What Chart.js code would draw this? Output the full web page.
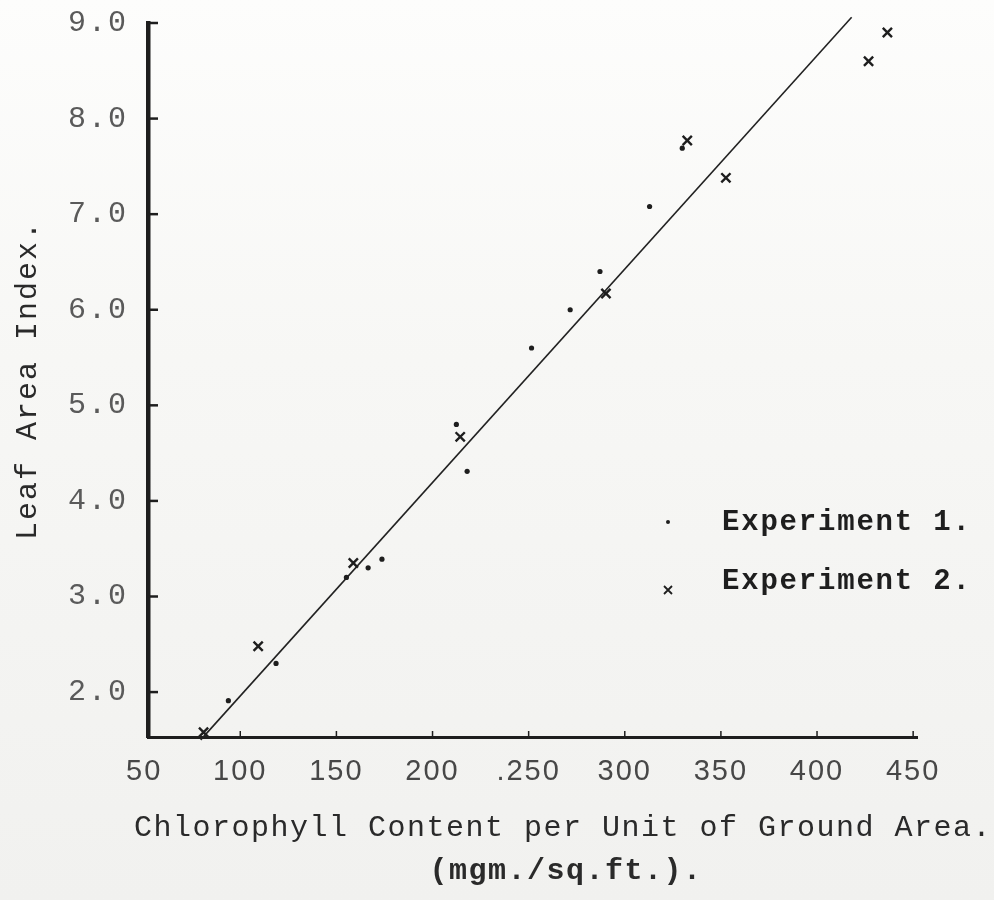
<!DOCTYPE html>
<html><head><meta charset="utf-8">
<script src="https://cdn.jsdelivr.net/npm/chart.js@4.4.1/dist/chart.umd.min.js"></script>
<style>
html,body{margin:0;padding:0;}
body{background:linear-gradient(180deg,#fdfdfc 0%,#f7f7f5 40%,#f1f1ef 100%);}
#wrap{width:994px;height:900px;position:relative;}
</style>
</head><body><div id="wrap"><canvas id="c" width="994" height="900"></canvas></div>
<script>
// ---- data ----
const exp1X = [93.8, 118.6, 155.2, 166.5, 173.7, 212.4, 218.0, 251.5, 271.6, 287.1, 312.9, 329.9];
const exp1Y = [1.91, 2.30, 3.20, 3.30, 3.39, 4.80, 4.31, 5.60, 6.00, 6.40, 7.08, 7.69];
const exp2X = [80.9, 109.3, 158.8, 214.4, 290.2, 332.5, 352.6, 426.8, 436.6];
const exp2Y = [1.58, 2.48, 3.35, 4.67, 6.17, 7.77, 7.38, 8.60, 8.90];
const fitX = [79.4, 418.0];
const fitY = [1.50, 9.06];
const xTickValues = [50, 100, 150, 200, 250, 300, 350, 400, 450];
const xTickLabels = ['50', '100', '150', '200', '.250', '300', '350', '400', '450'];
const yTickValues = [2, 3, 4, 5, 6, 7, 8, 9];
const yTickLabels = ['2.0', '3.0', '4.0', '5.0', '6.0', '7.0', '8.0', '9.0'];
const seriesNames = ['Experiment 1.', 'Experiment 2.'];
const yTitle = 'Leaf Area Index.';
const xTitleLines = ['Chlorophyll Content per Unit of Ground Area.', '(mgm./sq.ft.).'];

const MONO = '"Liberation Mono", "DejaVu Sans Mono", monospace';
const SANS = '"Liberation Sans", "DejaVu Sans", sans-serif';
const INK = '#1e1e1e';

const toPts = (xs, ys) => xs.map((x, i) => ({x: x, y: ys[i]}));

const spacingPlugin = {
  id: 'spacing',
  beforeUpdate(chart) { chart.ctx.letterSpacing = '2px'; },
  beforeDraw(chart) { chart.ctx.letterSpacing = '2px'; }
};

const innerTicks = {
  id: 'innerTicks',
  afterDraw(chart) {
    const ctx = chart.ctx, ca = chart.chartArea;
    const xs = chart.scales.x, ys = chart.scales.y;
    ctx.save();
    ctx.strokeStyle = INK;
    ctx.lineWidth = 2.5;
    yTickValues.forEach(v => {
      const py = ys.getPixelForValue(v);
      ctx.beginPath(); ctx.moveTo(ca.left, py); ctx.lineTo(ca.left + 10, py); ctx.stroke();
    });
    ctx.lineWidth = 1.5;
    xTickValues.forEach(v => {
      if (v <= xs.min) return;
      const px = xs.getPixelForValue(v);
      ctx.beginPath(); ctx.moveTo(px, ca.bottom); ctx.lineTo(px, ca.bottom - 6); ctx.stroke();
    });
    ctx.restore();
  }
};

const extraText = {
  id: 'extraText',
  afterDraw(chart) {
    const ctx = chart.ctx;
    ctx.save();
    // legend
    const lx = 668, tx = 722;
    ctx.fillStyle = INK;
    ctx.beginPath(); ctx.arc(lx, 522, 2, 0, Math.PI * 2); ctx.fill();
    ctx.strokeStyle = INK; ctx.lineWidth = 1.8;
    ctx.beginPath();
    ctx.moveTo(lx - 4, 586); ctx.lineTo(lx + 4, 594);
    ctx.moveTo(lx + 4, 586); ctx.lineTo(lx - 4, 594);
    ctx.stroke();
    ctx.letterSpacing = '1.8px';
    ctx.font = 'bold 29px ' + MONO;
    ctx.textBaseline = 'middle';
    ctx.textAlign = 'left';
    ctx.fillText(chart.data.datasets[0].label, tx, 523);
    ctx.fillText(chart.data.datasets[1].label, tx, 582);
    // x axis title
    ctx.letterSpacing = '1.5px';
    ctx.fillStyle = '#2a2a2a';
    ctx.font = '30px ' + MONO;
    ctx.textAlign = 'center';
    ctx.fillText(xTitleLines[0], 563, 828);
    ctx.font = 'bold 30px ' + MONO;
    ctx.fillText(xTitleLines[1], 566, 871);
    ctx.restore();
  }
};

new Chart(document.getElementById('c'), {
  type: 'scatter',
  data: {
    datasets: [
      {label: seriesNames[0], data: toPts(exp1X, exp1Y), pointStyle: 'circle', pointRadius: 2.6,
       backgroundColor: INK, borderColor: INK, borderWidth: 0, clip: false},
      {label: seriesNames[1], data: toPts(exp2X, exp2Y), pointStyle: 'crossRot', pointRadius: 6.5,
       borderColor: INK, backgroundColor: INK, borderWidth: 2.4, clip: false},
      {type: 'line', label: 'fit', data: toPts(fitX, fitY), borderColor: '#222', borderWidth: 1.6,
       pointRadius: 0, fill: false, tension: 0, clip: false}
    ]
  },
  options: {
    responsive: false, animation: false, devicePixelRatio: 1,
    layout: {padding: {top: 23, right: 77, left: 0, bottom: 0}},
    plugins: {legend: {display: false}, tooltip: {enabled: false}},
    scales: {
      x: {
        type: 'linear', min: 52, max: 452,
        afterBuildTicks: s => { s.ticks = xTickValues.map(v => ({value: v})); },
        afterFit: s => { s.height = 163; },
        grid: {display: false},
        border: {display: true, color: INK, width: 3},
        ticks: {
          autoSkip: false, maxRotation: 0, padding: 10, color: '#474747',
          font: {family: SANS, size: 29},
          callback: (v) => { const i = xTickValues.indexOf(v); return i >= 0 ? xTickLabels[i] : ''; }
        }
      },
      y: {
        type: 'linear', min: 1.53, max: 9.0,
        afterBuildTicks: s => { s.ticks = yTickValues.map(v => ({value: v})); },
        afterFit: s => { s.width = 148; },
        grid: {display: false},
        border: {display: true, color: INK, width: 4.5},
        ticks: {
          padding: 12, color: '#5a5a5a', font: {family: MONO, size: 30, lineHeight: 0.7},
          callback: (v) => { const i = yTickValues.indexOf(v); return i >= 0 ? yTickLabels[i] : ''; }
        },
        title: {display: true, text: yTitle, color: '#2a2a2a', font: {family: MONO, size: 30},
                padding: {top: 10, bottom: 0}}
      }
    }
  },
  plugins: [spacingPlugin, innerTicks, extraText]
});
</script>
</body></html>
